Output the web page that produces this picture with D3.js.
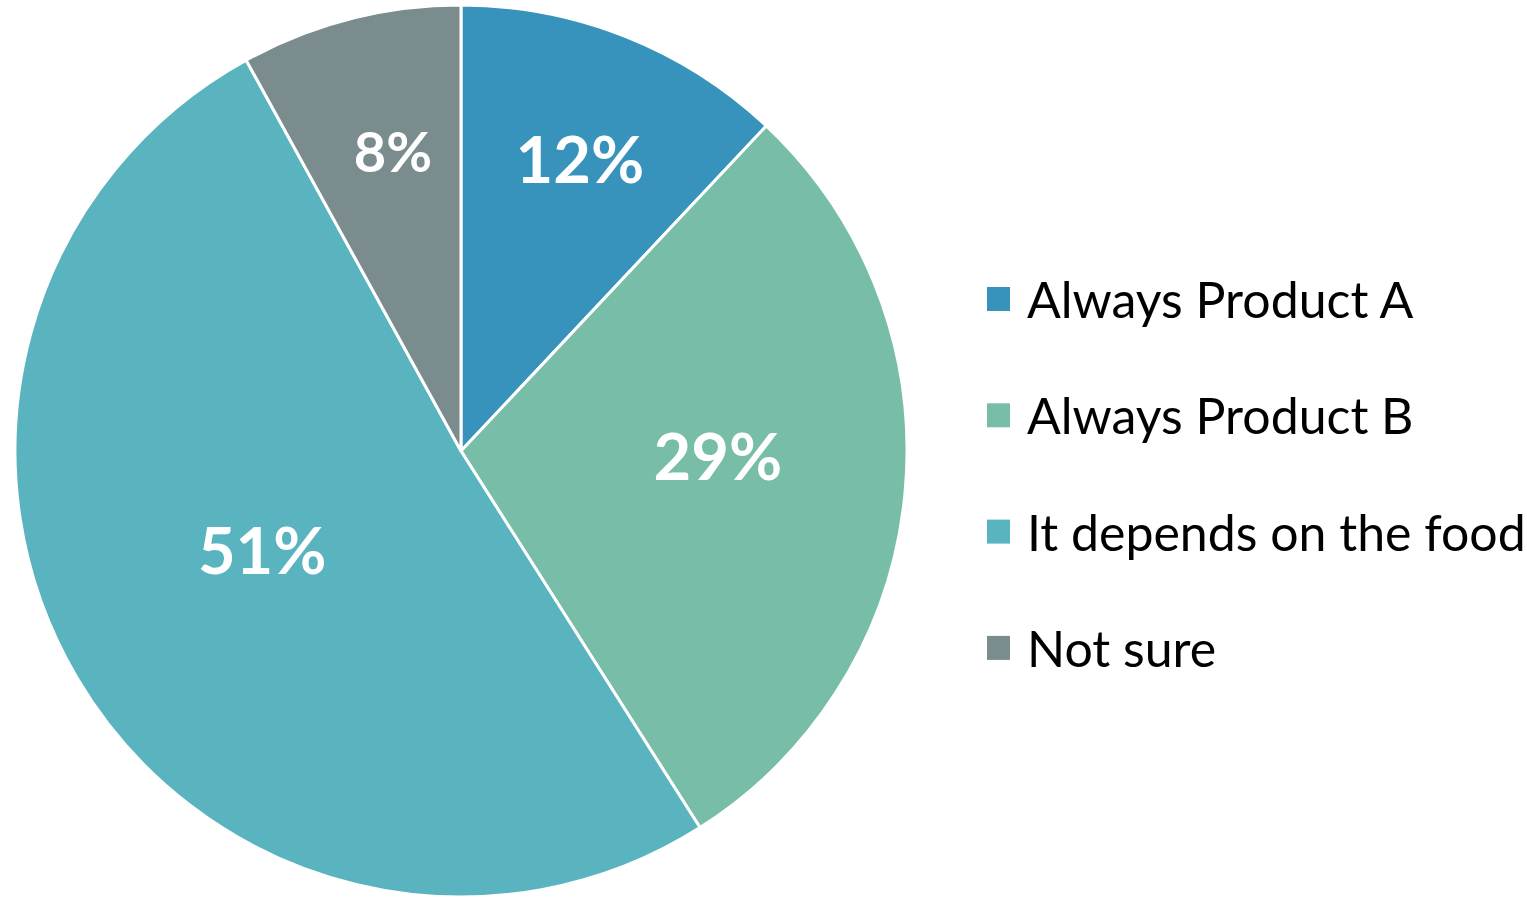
<!DOCTYPE html>
<html>
<head>
<meta charset="utf-8">
<script src="https://cdn.jsdelivr.net/npm/d3@7"></script>
<style>
  body { margin: 0; background: #fff; }
  text { font-family: Lato, "Open Sans", sans-serif; }
</style>
</head>
<body>
<div id="pieChart"></div>
<script>
// chart data
var categories = ["Always Product A", "Always Product B", "It depends on the food", "Not sure"]
var values = [12, 29, 51, 8]
var valueLabels = ["12%", "29%", "51%", "8%"]
var colors = ["#3793bb", "#78bda7", "#5ab4bf", "#7b8c8e"]

var width = 1527
var height = 897
var radius = 446
var cx = 461, cy = 451

// label placement: fraction of radius, angle nudge in degrees, font size
var labelPos = [0.705, 0.576, 0.498, 0.688]
var labelNudge = [0.6, -4.1, 4.1, 1.6]
var labelSize = [65, 65, 65, 56]

var svg = d3.select("#pieChart")
  .append("svg")
  .attr("width", width)
  .attr("height", height)

var g = svg.append("g")
  .attr("transform", "translate(" + cx + "," + cy + ")")

var pie = d3.pie().sort(null).value(function(d) { return d })
var arcs = pie(values)

var arc = d3.arc().innerRadius(0).outerRadius(radius)

g.selectAll("path.slice")
  .data(arcs)
  .enter().append("path")
  .attr("class", "slice")
  .attr("d", arc)
  .style("fill", function(d, i) { return colors[i] })
  .style("stroke", "#fff")
  .style("stroke-width", 3)

g.selectAll("text.lbl")
  .data(arcs)
  .enter().append("text")
  .attr("class", "lbl")
  .attr("transform", function(d, i) {
    var a = (d.startAngle + d.endAngle) / 2 + labelNudge[i] * Math.PI / 180
    var r = radius * labelPos[i]
    return "translate(" + (Math.sin(a) * r) + "," + (-Math.cos(a) * r) + ")"
  })
  .attr("text-anchor", "middle")
  .attr("dy", "0.36em")
  .style("fill", "#fff")
  .style("font-weight", "bold")
  .style("font-size", function(d, i) { return labelSize[i] + "px" })
  .text(function(d, i) { return valueLabels[i] })

// legend
var legend = svg.append("g")
  .attr("transform", "translate(987,299)")

var rows = legend.selectAll("g.row")
  .data(categories)
  .enter().append("g")
  .attr("class", "row")
  .attr("transform", function(d, i) { return "translate(0," + (i * 116.3) + ")" })

rows.append("rect")
  .attr("x", 0)
  .attr("y", -12)
  .attr("width", 23)
  .attr("height", 24)
  .style("fill", function(d, i) { return colors[i] })

rows.append("text")
  .attr("x", 40)
  .attr("y", 19)
  .style("font-size", "50px")
  .style("fill", "#000")
  .text(function(d) { return d })
</script>
</body>
</html>
